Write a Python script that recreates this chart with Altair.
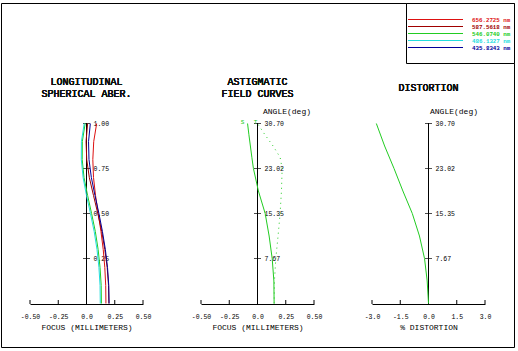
import altair as alt
import pandas as pd

FONT = "Liberation Mono"

# ---------------- data ----------------
wavelengths = ["656.2725 nm", "587.5618 nm", "546.0740 nm", "486.1327 nm", "435.8343 nm"]
wl_colors = ["#dd1111", "#a00000", "#22cc22", "#22dddd", "#000099"]

# Longitudinal spherical aberration (relative pupil vs focus, mm)
pupil = [0.0, 0.1, 0.2, 0.3, 0.4, 0.5, 0.6, 0.7, 0.8, 0.9, 1.0]
lsa_656 = [0.172, 0.170, 0.162, 0.148, 0.128, 0.104, 0.080, 0.062, 0.056, 0.064, 0.090]
lsa_587 = [0.198, 0.195, 0.183, 0.162, 0.135, 0.100, 0.062, 0.025, 0.002, -0.004, 0.010]
lsa_546 = [0.132, 0.130, 0.120, 0.103, 0.078, 0.045, 0.010, -0.022, -0.038, -0.037, -0.012]
lsa_486 = [0.122, 0.120, 0.110, 0.093, 0.068, 0.035, 0.000, -0.030, -0.046, -0.045, -0.020]
lsa_435 = [0.200, 0.197, 0.186, 0.167, 0.141, 0.110, 0.075, 0.043, 0.022, 0.018, 0.034]
lsa_series = [lsa_656, lsa_587, lsa_546, lsa_486, lsa_435]

# Astigmatic field curves (angle deg vs focus, mm)
fc_angle = [0.0, 3.84, 7.67, 11.51, 15.35, 19.19, 23.02, 24.94, 26.86, 28.78, 30.70]
fc_sag = [0.147, 0.145, 0.130, 0.103, 0.068, 0.008, -0.036, -0.050, -0.063, -0.076, -0.088]
fc_tan = [0.147, 0.150, 0.162, 0.182, 0.200, 0.212, 0.218, 0.200, 0.138, 0.066, 0.000]

# Distortion (angle deg vs % distortion)
dist_angle = [0.0, 3.84, 7.67, 11.51, 15.35, 19.19, 23.02, 26.86, 30.70]
dist_pct = [0.0, -0.07, -0.21, -0.48, -0.86, -1.36, -1.83, -2.33, -2.77]

# axes
focus_ticks = [-0.5, -0.25, 0.0, 0.25, 0.5]
focus_labels = ["-0.50", "-0.25", "0.0", "0.25", "0.50"]
dist_ticks = [-3.0, -1.5, 0.0, 1.5, 3.0]
dist_labels = ["-3.0", "-1.5", "0.0", "1.5", "3.0"]
pupil_ticks = [0.25, 0.5, 0.75, 1.0]
pupil_labels = ["0.25", "0.50", "0.75", "1.00"]
angle_ticks = [7.67, 15.35, 23.02, 30.70]
angle_labels = ["7.67", "15.35", "23.02", "30.70"]

W = 113
H = 181
SPACING = 58
GREEN = "#22cc22"
O1X, O1Y = 31, 123          # intended origin of the first plot area
O3X = O1X + 2 * (W + SPACING)


def label_expr(vals, labs):
    expr = "''"
    for v, l in reversed(list(zip(vals, labs))):
        expr = f"abs(datum.value - ({v})) < 1e-9 ? '{l}' : ({expr})"
    return expr


def base_layers(xdomain, xvals, xlabs, xtitle, ydomain, yvals, ylabs, title_lines, title_y):
    xscale = alt.Scale(domain=xdomain, nice=False, zero=False)
    yscale = alt.Scale(domain=ydomain, nice=False, zero=False, range=[H - 0.5, 0.5])
    xaxis = alt.Axis(values=xvals, labelExpr=label_expr(xvals, xlabs), title=xtitle,
                     grid=False, ticks=False, tickSize=0, domainColor="black",
                     labelFont=FONT, labelFontSize=6.5, labelColor="black", labelPadding=9,
                     labelFlush=False, labelOverlap=False,
                     titleFont=FONT, titleFontSize=8, titleFontWeight="normal",
                     titleColor="black", titlePadding=4)
    layers = []
    xt = pd.DataFrame({"v": xvals})
    # x axis ticks (pointing up)
    layers.append(alt.Chart(xt).mark_rule(color="black", strokeWidth=1).encode(
        x=alt.X("v:Q", scale=xscale, axis=xaxis),
        y=alt.value(H - 4), y2=alt.value(H)))
    # vertical axis at zero
    layers.append(alt.Chart(xt).mark_rule(color="black", strokeWidth=1).encode(
        x=alt.XDatum(0, axis=xaxis, scale=xscale),
        y=alt.YDatum(ydomain[0], axis=None, scale=yscale),
        y2=alt.Y2Datum(ydomain[1])))
    yt = pd.DataFrame({"v": yvals, "lab": ylabs})
    layers.append(alt.Chart(yt).mark_tick(orient="horizontal", size=7, thickness=1, color="black").encode(
        x=alt.XDatum(0, axis=xaxis, scale=xscale),
        y=alt.Y("v:Q", axis=None, scale=yscale)))
    layers.append(alt.Chart(yt).mark_text(align="left", baseline="middle", dx=7, font=FONT,
                                          fontSize=6.5, color="black").encode(
        x=alt.XDatum(0, axis=xaxis, scale=xscale),
        y=alt.Y("v:Q", axis=None, scale=yscale),
        text="lab:N"))
    for i, t in enumerate(title_lines):
        layers.append(alt.Chart(xt).mark_text(align="center", baseline="middle", font=FONT,
                                              fontSize=10, fontWeight="normal", color="#111111").encode(
            x=alt.value(W / 2), y=alt.value(title_y + 12 * i), text=alt.value(t)))
    return layers, xscale, yscale, xaxis


one = pd.DataFrame({"a": [0]})

# ---------------- panel 1: LSA ----------------
l1, xs1, ys1, xa1 = base_layers([-0.5, 0.5], focus_ticks, focus_labels, "FOCUS (MILLIMETERS)",
                                [0, 1], pupil_ticks, pupil_labels,
                                ["LONGITUDINAL", "SPHERICAL ABER."], -41.5)
rows = []
for wl, ser in zip(wavelengths, lsa_series):
    for p, f in zip(pupil, ser):
        rows.append({"wl": wl, "pupil": p, "focus": f})
lsa_df = pd.DataFrame(rows)
color_scale = alt.Scale(domain=wavelengths, range=wl_colors)
lsa_lines = alt.Chart(lsa_df).mark_line(strokeWidth=1).encode(
    x=alt.X("focus:Q", scale=xs1, axis=xa1),
    y=alt.Y("pupil:Q", scale=ys1, axis=None),
    color=alt.Color("wl:N", scale=color_scale, legend=None),
    order=alt.Order("pupil:Q"))
frame = alt.Chart(one).mark_rect(filled=False, stroke="black", strokeWidth=1,
                                 fill="transparent").encode(
    x=alt.value(2.5 - O1X), x2=alt.value(515.5 - O1X),
    y=alt.value(3.5 - O1Y), y2=alt.value(347.5 - O1Y))
p1 = alt.layer(*l1, lsa_lines, frame).properties(width=W, height=H)

# ---------------- panel 2: field curves ----------------
l2, xs2, ys2, xa2 = base_layers([-0.5, 0.5], focus_ticks, focus_labels, "FOCUS (MILLIMETERS)",
                                [0, 30.70], angle_ticks, angle_labels,
                                ["ASTIGMATIC", "FIELD CURVES"], -41.5)
fc_df = pd.DataFrame({"angle": fc_angle, "sag": fc_sag, "tan": fc_tan})
sag_line = alt.Chart(fc_df).mark_line(strokeWidth=1, color=GREEN).encode(
    x=alt.X("sag:Q", scale=xs2, axis=xa2), y=alt.Y("angle:Q", scale=ys2, axis=None),
    order=alt.Order("angle:Q"))
tan_line = alt.Chart(fc_df).mark_line(strokeWidth=1, color=GREEN, strokeDash=[1, 4]).encode(
    x=alt.X("tan:Q", scale=xs2, axis=xa2), y=alt.Y("angle:Q", scale=ys2, axis=None),
    order=alt.Order("angle:Q"))
st_df = pd.DataFrame({"x": [fc_sag[-1], fc_tan[-1]], "y": [fc_angle[-1], fc_angle[-1]],
                      "lab": ["S", "T"]})
st_s = alt.Chart(st_df.iloc[[0]]).mark_text(font=FONT, fontSize=6, color=GREEN, dx=-5, dy=-2,
                                            baseline="middle", align="center").encode(
    x=alt.X("x:Q", scale=xs2, axis=xa2), y=alt.Y("y:Q", scale=ys2, axis=None), text="lab:N")
st_t = alt.Chart(st_df.iloc[[1]]).mark_text(font=FONT, fontSize=6, color=GREEN, dx=-2, dy=-2,
                                            baseline="middle", align="center").encode(
    x=alt.X("x:Q", scale=xs2, axis=xa2), y=alt.Y("y:Q", scale=ys2, axis=None), text="lab:N")
ang2 = alt.Chart(one).mark_text(font=FONT, fontSize=8, color="black",
                                align="left", baseline="middle").encode(
    x=alt.value(W / 2 + 5.5), y=alt.value(-10.8), text=alt.value("ANGLE(deg)"))
p2 = alt.layer(*l2, sag_line, tan_line, st_s, st_t, ang2).properties(width=W, height=H)

# ---------------- panel 3: distortion ----------------
l3, xs3, ys3, xa3 = base_layers([-3.0, 3.0], dist_ticks, dist_labels, "% DISTORTION",
                                [0, 30.70], angle_ticks, angle_labels,
                                ["DISTORTION"], -34.8)
dist_df = pd.DataFrame({"angle": dist_angle, "pct": dist_pct})
dist_line = alt.Chart(dist_df).mark_line(strokeWidth=1, color=GREEN).encode(
    x=alt.X("pct:Q", scale=xs3, axis=xa3), y=alt.Y("angle:Q", scale=ys3, axis=None),
    order=alt.Order("angle:Q"))
ang3 = alt.Chart(one).mark_text(font=FONT, fontSize=8, color="black",
                                align="left", baseline="middle").encode(
    x=alt.value(W / 2 + 1.5), y=alt.value(-10.8), text=alt.value("ANGLE(deg)"))
leg_layers = [alt.Chart(one).mark_rect(filled=False, stroke="black", strokeWidth=1, fill="white").encode(
    x=alt.value(407.5 - O3X), x2=alt.value(515.5 - O3X),
    y=alt.value(3.5 - O1Y), y2=alt.value(63.5 - O1Y))]
for i, (wl, c) in enumerate(zip(wavelengths, wl_colors)):
    yy = 19.5 + 7 * i - O1Y
    leg_layers.append(alt.Chart(one).mark_rule(color=c, strokeWidth=1).encode(
        x=alt.value(409 - O3X), x2=alt.value(464 - O3X), y=alt.value(yy)))
    leg_layers.append(alt.Chart(one).mark_text(
        font=FONT, fontSize=5.8, fontWeight="bold", color=c, align="left", baseline="middle").encode(
        x=alt.value(473 - O3X), y=alt.value(yy), text=alt.value(wl)))
p3 = alt.layer(*l3, dist_line, ang3, *leg_layers).properties(width=W, height=H)

chart = alt.hconcat(p1, p2, p3, spacing=SPACING, bounds="flush").properties(
    padding={"left": 1, "top": 3, "right": 1.5, "bottom": 1.5},
    background="white"
).configure_view(stroke=None)

chart.save("out.html", embed_options={"renderer": "svg", "actions": False})
